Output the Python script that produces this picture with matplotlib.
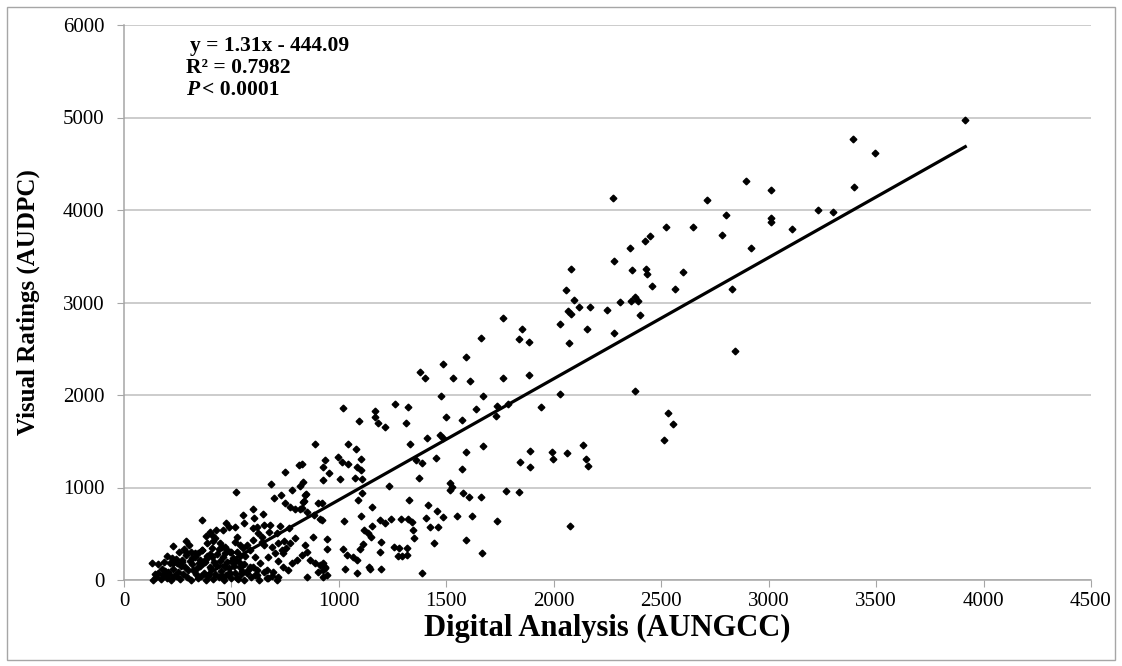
import numpy as np
import matplotlib.pyplot as plt
from matplotlib.patches import Rectangle
from matplotlib.transforms import offset_copy

plt.rcParams['font.family'] = ['Liberation Serif', 'DejaVu Serif']

# high disease plots (AUNGCC, AUDPC)
x_high = [3915, 3392, 3496, 3397, 3231, 3301, 3108, 3011, 3011, 3011, 2274, 2893, 2713, 2803,
          2524, 2646, 2781, 2449, 2424, 2353, 2920, 2279, 2082, 2365, 2427, 2432, 2602, 2455,
          2564, 2831, 2057, 2095, 2068, 2079, 2117, 2170, 2248, 2308, 2358, 2379, 2392, 2400,
          2027, 2153, 2279, 2069, 2842, 2027, 2379, 1942, 2531, 2553, 2513, 2134, 1993, 1996,
          2061, 2151, 2161, 2077]
y_high = [4970, 4770, 4620, 4245, 3995, 3975, 3800, 4212, 3910, 3875, 4133, 4310, 4111, 3946,
          3816, 3816, 3726, 3715, 3661, 3593, 3586, 3452, 3359, 3348, 3362, 3305, 3330, 3175,
          3150, 3142, 3139, 3027, 2908, 2876, 2948, 2948, 2919, 3009, 3020, 3059, 3012, 2865,
          2764, 2714, 2667, 2566, 2472, 2014, 2047, 1874, 1805, 1690, 1514, 1459, 1380, 1305,
          1369, 1305, 1232, 580]

# middle range
x_mid = [1764, 1853, 1838, 1886, 1660, 1593, 1484, 1377, 1399, 1531, 1608, 1765, 1885, 1477,
         1671, 1018, 1170, 1168, 1180, 1216, 1261, 1322, 1311, 1092, 1639, 1498, 1574, 1737,
         1785, 1731, 1411, 1470, 1483, 1671, 1590, 1891, 1843, 1888, 1042, 1081, 1104, 994,
         1014, 1042, 1086, 1104, 1331, 1452, 1360, 1385, 1374, 1574, 935, 927, 953, 927,
         1007, 1073, 1109, 1107, 1087, 1235, 1517, 1525, 1517, 1579, 1604, 1660, 1777, 1839,
         1326, 1155, 1415, 1456, 1484, 1404, 1424, 1462, 1550, 1619, 1734, 1022, 1104, 1191,
         1215, 1244, 1289, 1320, 1340, 1343, 1351, 1115, 1134, 1148, 1155, 1114, 1100, 1197,
         1190, 1256, 1281, 1294, 1318, 1317, 1275, 1444, 1593, 1666, 1018, 1039, 1064, 1084,
         1028, 1084, 1142, 1145, 1197, 1388, 946, 946, 920, 920, 927, 935, 927]
y_mid = [2832, 2710, 2605, 2573, 2620, 2411, 2339, 2252, 2184, 2184, 2155, 2180, 2213, 1989,
         1993, 1856, 1827, 1766, 1694, 1651, 1906, 1867, 1694, 1722, 1852, 1759, 1730, 1881,
         1899, 1773, 1535, 1568, 1532, 1449, 1380, 1395, 1276, 1218, 1474, 1420, 1308, 1330,
         1276, 1254, 1218, 1189, 1474, 1322, 1297, 1261, 1099, 1200, 1297, 1225, 1160, 1081,
         1092, 1106, 1089, 944, 865, 1016, 1045, 1002, 973, 944, 894, 897, 965, 955,
         865, 786, 814, 743, 684, 667, 576, 570, 689, 695, 634, 641, 695, 649,
         613, 663, 663, 656, 627, 541, 457, 541, 505, 462, 587, 386, 332, 408,
         299, 357, 346, 263, 346, 270, 263, 397, 432, 289, 339, 274, 252, 219,
         122, 79, 137, 116, 122, 79, 440, 332, 649, 829, 181, 126, 36]

# low range
x_low = [890, 816, 749, 684, 834, 819, 783, 521, 697, 729, 747, 772, 797, 819, 839, 847, 904,
         884, 913, 602, 552, 603, 647, 619, 650, 363, 473, 489, 518, 559, 462, 681, 673, 724,
         713, 768, 745, 752, 644, 641, 651, 380, 408, 428, 413, 290, 303, 288, 313, 227, 227,
         245, 268, 129, 455, 434, 470, 493, 527, 555, 563, 385, 408, 354, 369, 400, 586, 610,
         633, 672, 703, 718, 741, 602, 571, 827, 842, 834, 827, 850, 881, 842, 850, 827, 866,
         889, 912, 904, 927, 943, 935, 850, 602, 625, 524, 517, 540, 478, 687, 718, 734, 772,
         796, 803, 780, 765, 741, 602, 664, 617, 664, 571, 540, 509, 493, 524, 470, 718, 695,
         400, 423, 447, 385, 361, 330, 315]
y_low = [1470, 1247, 1164, 1041, 1063, 1016, 973, 951, 883, 916, 836, 792, 771, 764, 857, 930, 829,
         703, 656, 764, 703, 667, 710, 576, 595, 649, 620, 570, 570, 613, 541, 595, 522, 584,
         505, 559, 425, 343, 468, 414, 378, 476, 486, 541, 425, 425, 378, 299, 306, 371, 187,
         180, 216, 184, 360, 281, 289, 306, 306, 343, 259, 259, 252, 216, 180, 144, 324, 252,
         180, 252, 289, 209, 289, 432, 378, 1251, 919, 847, 775, 739, 468, 378, 306, 270, 216,
         180, 162, 90, 108, 54, 144, 36, 559, 505, 468, 414, 378, 324, 360, 397, 324, 397,
         451, 216, 180, 108, 144, 144, 108, 54, 18, 72, 144, 180, 72, 18, 144, 36, 90,
         522, 450, 397, 397, 324, 289, 234]

# crowded corner near the origin
x_base = [135, 150, 160, 170, 180, 190, 200, 210, 220, 230, 240, 250, 260, 275, 285, 295, 310,
          320, 335, 345, 355, 370, 380, 390, 405, 415, 425, 440, 450, 465, 475, 490, 500, 515,
          530, 545, 560, 575, 590, 610, 630, 650, 670, 690, 710,
          160, 185, 200, 215, 240, 255, 270, 290, 305, 330, 350, 365, 380, 400, 420, 440, 460,
          480, 500, 520, 540, 560,
          145, 175, 205, 235, 265, 300, 340, 360, 395, 430, 455, 485, 510, 550, 585, 620,
          225, 280, 315, 345, 375, 410, 445, 470, 505, 535]
y_base = [0, 30, 80, 10, 50, 100, 20, 60, 0, 120, 40, 90, 10, 70, 140, 30, 0,
          110, 60, 20, 150, 80, 0, 40, 120, 10, 70, 30, 100, 0, 50, 130, 20, 80,
          10, 60, 0, 110, 30, 50, 0, 90, 20, 40, 0,
          170, 200, 260, 180, 230, 300, 190, 270, 210, 250, 180, 320, 230, 280, 200, 330, 250,
          190, 300, 220, 260, 170,
          60, 120, 90, 40, 150, 110, 130, 40, 70, 160, 40, 60, 150, 100, 140, 110,
          240, 330, 170, 290, 200, 350, 210, 360, 240, 190]

slope = 1.31
intercept = -444.09

x = np.array(x_high + x_mid + x_low + x_base, dtype=float)
y = np.array(y_high + y_mid + y_low + y_base, dtype=float)

W, H = 1122, 666
fig = plt.figure(figsize=(W / 100, H / 100), dpi=100)
ax = fig.add_axes([124 / W, 86 / H, 967 / W, 555 / H])

ax.plot(x, y, ls='none', marker='D', ms=3.4, color='black', zorder=3, clip_on=False)

xs = np.array([x.min(), x.max()])
ax.plot(xs, slope * xs + intercept, color='black', lw=2.3, zorder=4)

ax.set_xlim(0, 4500)
ax.set_ylim(0, 6000)
ax.set_xticks(np.arange(0, 4501, 500))
ax.set_yticks(np.arange(0, 6001, 1000))
ax.yaxis.grid(True, color='#BFBFBF', lw=1.1)
ax.set_axisbelow(True)
for s in ['top', 'right']:
    ax.spines[s].set_visible(False)
for s in ['left', 'bottom']:
    ax.spines[s].set_color('#A6A6A6')
    ax.spines[s].set_linewidth(1.1)
ax.tick_params(axis='both', direction='out', length=5, color='#A6A6A6', labelsize=15)
ax.tick_params(axis='y', pad=9)
ax.tick_params(axis='x', pad=4)

ax.set_xlabel('Digital Analysis (AUNGCC)', fontsize=22, fontweight='bold')
ax.set_ylabel('Visual Ratings (AUDPC)', fontsize=18, fontweight='bold')
ax.xaxis.set_label_coords(0.5, -0.062)
ax.yaxis.set_label_coords(-0.087, 0.5)

ax.text(307, 5775, 'y = 1.31x - 444.09', fontsize=15.5, fontweight='bold', va='center')
ax.text(290, 5537, 'R² = 0.7982', fontsize=15.5, fontweight='bold', va='center')
ax.text(290, 5299, 'P', fontsize=15.5, fontweight='bold', style='italic', va='center')
ax.text(290, 5299, '< 0.0001', fontsize=15.5, fontweight='bold', va='center',
        transform=offset_copy(ax.transData, fig=fig, x=11, y=0, units='points'))

fig.patches.append(Rectangle((0.006, 0.009), 0.988, 0.981, transform=fig.transFigure,
                             fill=False, ec='#A6A6A6', lw=1))

plt.savefig('out.png', dpi=100)
